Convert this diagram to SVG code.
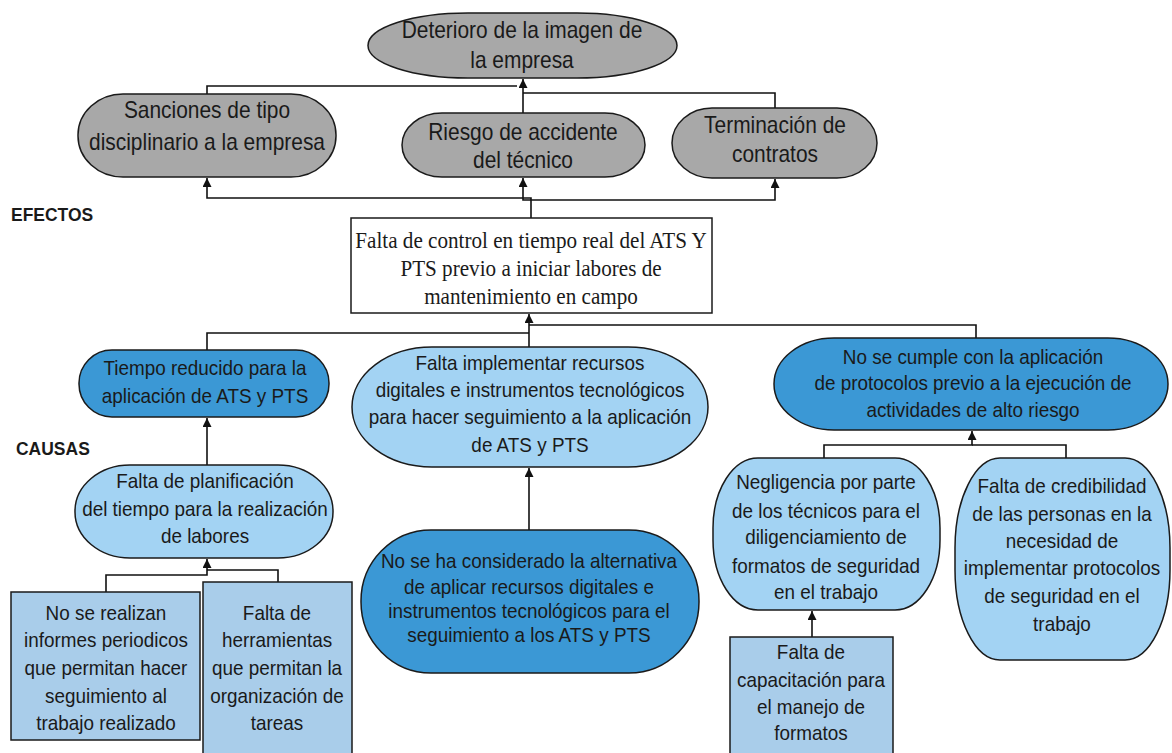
<svg xmlns="http://www.w3.org/2000/svg" width="1172" height="753" viewBox="0 0 1172 753">
<style>
.n{stroke:#1a1a1a;stroke-width:1.5}
.g{fill:#a8a8a8}
.d{fill:#3b98d5}
.l{fill:#a3d3f3}
.r{fill:#a9cdea}
.w{fill:#ffffff}
text{font-family:"Liberation Sans",Arial,sans-serif;font-size:21px;fill:#1a1a1a;text-anchor:middle}
.big{font-size:23px}
.serif{font-family:"Liberation Serif","Times New Roman",serif;font-size:23px}
.lbl{font-weight:bold;font-size:19px;text-anchor:start}
.c{fill:none;stroke:#111;stroke-width:1.6}
</style>
<defs>
<marker id="a" viewBox="0 0 10 10" refX="10" refY="5" markerWidth="10" markerHeight="9" markerUnits="userSpaceOnUse" orient="auto">
<path d="M0,0 L10,5 L0,10 z" fill="#111"/>
</marker>
</defs>

<g id="connectors">
<path class="c" d="M207,94 V86 H517"/>
<path class="c" d="M523,113 V79" marker-end="url(#a)"/>
<path class="c" d="M775,108 V93 H523"/>
<path class="c" d="M531,218 V198 H207 V178" marker-end="url(#a)"/>
<path class="c" d="M531,200 H523 V178" marker-end="url(#a)"/>
<path class="c" d="M531,200 H775 V179" marker-end="url(#a)"/>
<path class="c" d="M529,347 V314" marker-end="url(#a)"/>
<path class="c" d="M207,350 V333 H529"/>
<path class="c" d="M976,338 V325 H529"/>
<path class="c" d="M207,465 V418" marker-end="url(#a)"/>
<path class="c" d="M106,592 V575 H207 V559" marker-end="url(#a)"/>
<path class="c" d="M278,582 V570 H207"/>
<path class="c" d="M529,530 V468" marker-end="url(#a)"/>
<path class="c" d="M824,458 V445 H972 V431" marker-end="url(#a)"/>
<path class="c" d="M1066,458 V445 H972"/>
<path class="c" d="M812,637 V611" marker-end="url(#a)"/>
</g>

<g transform="translate(11 0) scale(0.92 1)"><text class="lbl" x="0" y="221">EFECTOS</text></g>
<g transform="translate(16 0) scale(0.92 1)"><text class="lbl" x="0" y="455">CAUSAS</text></g>

<g id="deterioro">
<rect class="n g" x="368" y="13" width="309" height="65" rx="100" ry="32.5"/>
<g transform="translate(522 0) scale(0.91 1)">
<text class="big" x="0" y="38">Deterioro de la imagen de</text>
<text class="big" x="0" y="68">la empresa</text>
</g>
</g>
<g id="sanciones">
<rect class="n g" x="78" y="94" width="258" height="83" rx="45" ry="41"/>
<g transform="translate(207 0) scale(0.91 1)">
<text class="big" x="0" y="118">Sanciones de tipo</text>
<text class="big" x="0" y="150">disciplinario a la empresa</text>
</g>
</g>
<g id="riesgo">
<rect class="n g" x="402" y="113" width="243" height="64" rx="40" ry="32"/>
<g transform="translate(523 0) scale(0.91 1)">
<text class="big" x="0" y="140">Riesgo de accidente</text>
<text class="big" x="0" y="168">del técnico</text>
</g>
</g>
<g id="terminacion">
<rect class="n g" x="672" y="108" width="205" height="70" rx="40" ry="35"/>
<g transform="translate(775 0) scale(0.91 1)">
<text class="big" x="0" y="133">Terminación de</text>
<text class="big" x="0" y="162">contratos</text>
</g>
</g>
<g id="problema">
<rect class="n w" x="351" y="218" width="361" height="95"/>
<g transform="translate(531 0) scale(0.92 1)">
<text class="serif" x="0" y="248">Falta de control en tiempo real del ATS Y</text>
<text class="serif" x="0" y="276">PTS previo a iniciar labores de</text>
<text class="serif" x="0" y="304">mantenimiento en campo</text>
</g>
</g>
<g id="tiempo">
<rect class="n d" x="79" y="350" width="250" height="67" rx="33" ry="33"/>
<g transform="translate(205 0) scale(0.9 1)">
<text x="0" y="375">Tiempo reducido para la</text>
<text x="0" y="403">aplicación de ATS y PTS</text>
</g>
</g>
<g id="implementar">
<rect class="n l" x="352" y="347" width="356" height="120" rx="80" ry="60"/>
<g transform="translate(530 0) scale(0.9 1)">
<text x="0" y="370">Falta implementar recursos</text>
<text x="0" y="397">digitales e instrumentos tecnológicos</text>
<text x="0" y="424">para hacer seguimiento a la aplicación</text>
<text x="0" y="452">de ATS y PTS</text>
</g>
</g>
<g id="cumple">
<rect class="n d" x="774" y="338" width="394" height="92" rx="60" ry="46"/>
<g transform="translate(973 0) scale(0.9 1)">
<text x="0" y="364">No se cumple con la aplicación</text>
<text x="0" y="390">de protocolos previo a la ejecución de</text>
<text x="0" y="417">actividades de alto riesgo</text>
</g>
</g>
<g id="planificacion">
<rect class="n l" x="75" y="465" width="258" height="93" rx="55" ry="46"/>
<g transform="translate(205 0) scale(0.9 1)">
<text x="0" y="488">Falta de planificación</text>
<text x="0" y="516">del tiempo para la realización</text>
<text x="0" y="543">de labores</text>
</g>
</g>
<g id="informes">
<rect class="n r" x="11" y="592" width="189" height="148"/>
<g transform="translate(106 0) scale(0.9 1)">
<text x="0" y="620">No se realizan</text>
<text x="0" y="647">informes periodicos</text>
<text x="0" y="675">que permitan hacer</text>
<text x="0" y="703">seguimiento al</text>
<text x="0" y="730">trabajo realizado</text>
</g>
</g>
<g id="herramientas">
<rect class="n r" x="203" y="582" width="149" height="176"/>
<g transform="translate(277 0) scale(0.9 1)">
<text x="0" y="620">Falta de</text>
<text x="0" y="647">herramientas</text>
<text x="0" y="675">que permitan la</text>
<text x="0" y="703">organización de</text>
<text x="0" y="730">tareas</text>
</g>
</g>
<g id="considerado">
<rect class="n d" x="361" y="530" width="338" height="143" rx="70" ry="71"/>
<g transform="translate(529 0) scale(0.9 1)">
<text x="0" y="568">No se ha considerado la alternativa</text>
<text x="0" y="594">de aplicar recursos digitales e</text>
<text x="0" y="618">instrumentos tecnológicos para el</text>
<text x="0" y="642">seguimiento a los ATS y PTS</text>
</g>
</g>
<g id="negligencia">
<rect class="n l" x="713" y="458" width="227" height="152" rx="45" ry="70"/>
<g transform="translate(826 0) scale(0.9 1)">
<text x="0" y="489">Negligencia por parte</text>
<text x="0" y="518">de los técnicos para el</text>
<text x="0" y="544">diligenciamiento de</text>
<text x="0" y="573">formatos de seguridad</text>
<text x="0" y="599">en el trabajo</text>
</g>
</g>
<g id="credibilidad">
<rect class="n l" x="955" y="458" width="215" height="202" rx="45" ry="90"/>
<g transform="translate(1062 0) scale(0.9 1)">
<text x="0" y="493">Falta de credibilidad</text>
<text x="0" y="521">de las personas en la</text>
<text x="0" y="548">necesidad de</text>
<text x="0" y="575">implementar protocolos</text>
<text x="0" y="603">de seguridad en el</text>
<text x="0" y="631">trabajo</text>
</g>
</g>
<g id="capacitacion">
<rect class="n r" x="730" y="637" width="163" height="120"/>
<g transform="translate(811 0) scale(0.9 1)">
<text x="0" y="659">Falta de</text>
<text x="0" y="687">capacitación para</text>
<text x="0" y="714">el manejo de</text>
<text x="0" y="740">formatos</text>
</g>
</g>
</svg>
